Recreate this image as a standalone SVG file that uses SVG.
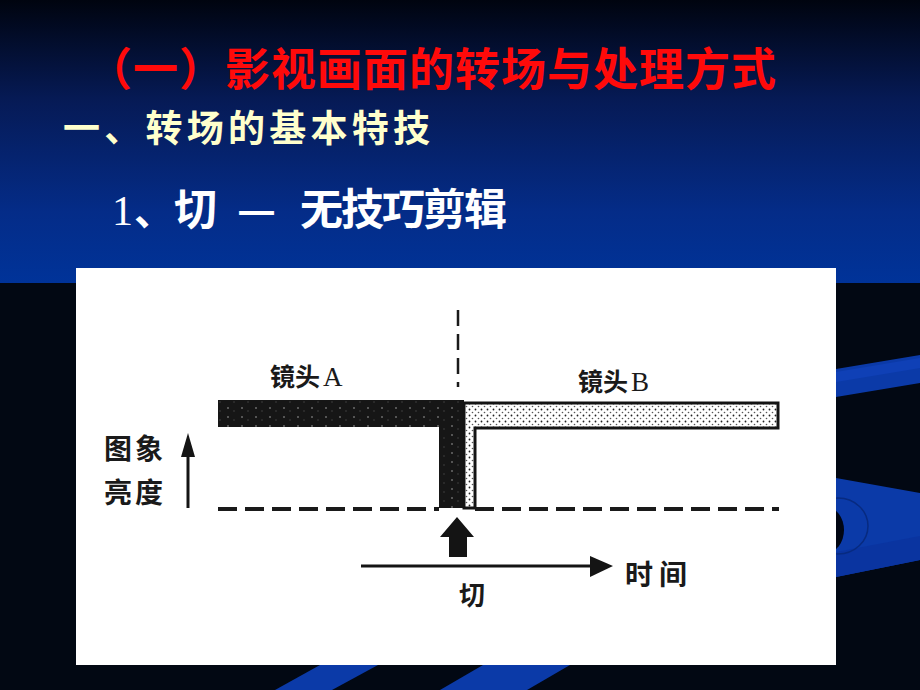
<svg xmlns="http://www.w3.org/2000/svg" width="920" height="690" viewBox="0 0 920 690">
  <defs>
    <linearGradient id="sky" x1="0" y1="0" x2="0" y2="1">
      <stop offset="0" stop-color="#00040f"/>
      <stop offset="0.35" stop-color="#061a55"/>
      <stop offset="0.75" stop-color="#042c88"/>
      <stop offset="1" stop-color="#003399"/>
    </linearGradient>
    <pattern id="dots" width="6" height="6" patternUnits="userSpaceOnUse">
      <rect width="6" height="6" fill="#ffffff"/>
      <circle cx="1.5" cy="1.5" r="0.9" fill="#222"/>
      <circle cx="4.5" cy="4.5" r="0.8" fill="#555"/>
    </pattern>
    <pattern id="speck" width="14" height="9" patternUnits="userSpaceOnUse">
      <rect width="14" height="9" fill="#161616"/>
      <circle cx="4" cy="3" r="1" fill="#6a6a6a"/>
      <circle cx="10" cy="6" r="0.7" fill="#4a4a4a"/>
    </pattern>
    <style>
      .cjk { font-family: "Noto Sans CJK SC", "Noto Sans", sans-serif; }
      .lbl { font-family: "Noto Sans CJK SC", "Noto Sans", sans-serif; font-weight: 700; fill: #1a1a1a; }
      .dash { stroke: #1a1a1a; fill: none; }
      .ink { fill: #141414; }
      .deco { fill: #0b3aa8; }
    </style>
  </defs>

  <g id="background">
    <rect x="0" y="0" width="920" height="690" fill="#020813"/>
    <rect x="0" y="0" width="920" height="283" fill="url(#sky)"/>
    <polygon class="deco" points="836,369 920,355 920,383 836,397"/>
    <polygon points="836,372 920,358 920,368 836,382" fill="#1245c0" opacity="0.6"/>
    <polygon class="deco" points="836,478 920,493 920,560 836,577"/>
    <polygon points="836,552 920,536 920,560 836,577" fill="#0a34a0"/>
    <ellipse cx="838" cy="526" rx="30" ry="28" fill="none" stroke="#072a80" stroke-width="1.5"/>
    <ellipse cx="826" cy="530" rx="18" ry="23" fill="#010612"/>
    <polygon class="deco" points="320,665 378,665 332,690 275,690"/>
    <polygon class="deco" points="483,665 570,665 527,690 440,690"/>
  </g>

  <g id="title">
    <text class="cjk" x="87" y="86" font-size="45" font-weight="700" fill="#ff0a0a" textLength="689" lengthAdjust="spacing">（一）影视画面的转场与处理方式</text>
  </g>
  <g id="heading">
    <text class="cjk" x="63" y="142" font-size="37" font-weight="700" fill="#ffffcc" textLength="367" lengthAdjust="spacing">一、转场的基本特技</text>
  </g>
  <g id="subheading" fill="#ffffff">
    <text x="112" y="225" font-family="Liberation Serif, serif" font-size="42">1</text>
    <text class="cjk" x="134" y="225" font-size="40" font-weight="700">、</text>
    <text class="cjk" x="174" y="225" font-size="43" font-weight="700">切</text>
    <text class="cjk" x="237" y="225" font-size="43" font-weight="700">—</text>
    <text class="cjk" x="300" y="225" font-size="43" font-weight="700" textLength="207" lengthAdjust="spacing">无技巧剪辑</text>
  </g>

  <g id="figure">
    <rect x="76" y="268" width="760" height="397" fill="#ffffff"/>
  </g>

  <g id="shotA">
    <path d="M218,400 L464,400 L464,508 L439,508 L439,427 L218,427 Z" fill="url(#speck)"/>
    <text class="lbl" x="270" y="386" font-size="25">镜头<tspan font-family="Liberation Serif, serif" font-weight="400" font-size="27" dx="3">A</tspan></text>
  </g>
  <g id="shotB">
    <path d="M464,403 L778,403 L778,428 L475,428 L475,508 L464,508 Z" fill="url(#dots)" stroke="#141414" stroke-width="3"/>
    <text class="lbl" x="578" y="391" font-size="25">镜头<tspan font-family="Liberation Serif, serif" font-weight="400" font-size="27" dx="3">B</tspan></text>
  </g>
  <g id="brightness-axis">
    <text class="lbl" x="104" y="459" font-size="28" letter-spacing="3">图象</text>
    <text class="lbl" x="104" y="503" font-size="28" letter-spacing="3">亮度</text>
  </g>
  <g id="cut-label">
    <text class="lbl" x="459" y="605" font-size="26">切</text>
  </g>
  <g id="time-label">
    <text class="lbl" x="625" y="585" font-size="28" textLength="62" lengthAdjust="spacing">时间</text>
  </g>

  <g id="connectors">
    <line class="dash" x1="458" y1="310" x2="458" y2="387" stroke-width="2.5" stroke-dasharray="16,8"/>
    <line class="dash" x1="218" y1="509" x2="439" y2="509" stroke-width="4" stroke-dasharray="19,8"/>
    <line class="dash" x1="475" y1="509" x2="779" y2="509" stroke-width="4" stroke-dasharray="19,8"/>
    <line x1="188" y1="508" x2="188" y2="452" stroke="#141414" stroke-width="3"/>
    <polygon class="ink" points="188,433 181,457 195,457"/>
    <polygon class="ink" points="457,517 474,537 467,537 467,557 449,557 449,537 440,537"/>
    <line x1="361" y1="566" x2="595" y2="566" stroke="#141414" stroke-width="3"/>
    <polygon class="ink" points="590,556 613,566 590,577"/>
  </g>
</svg>
